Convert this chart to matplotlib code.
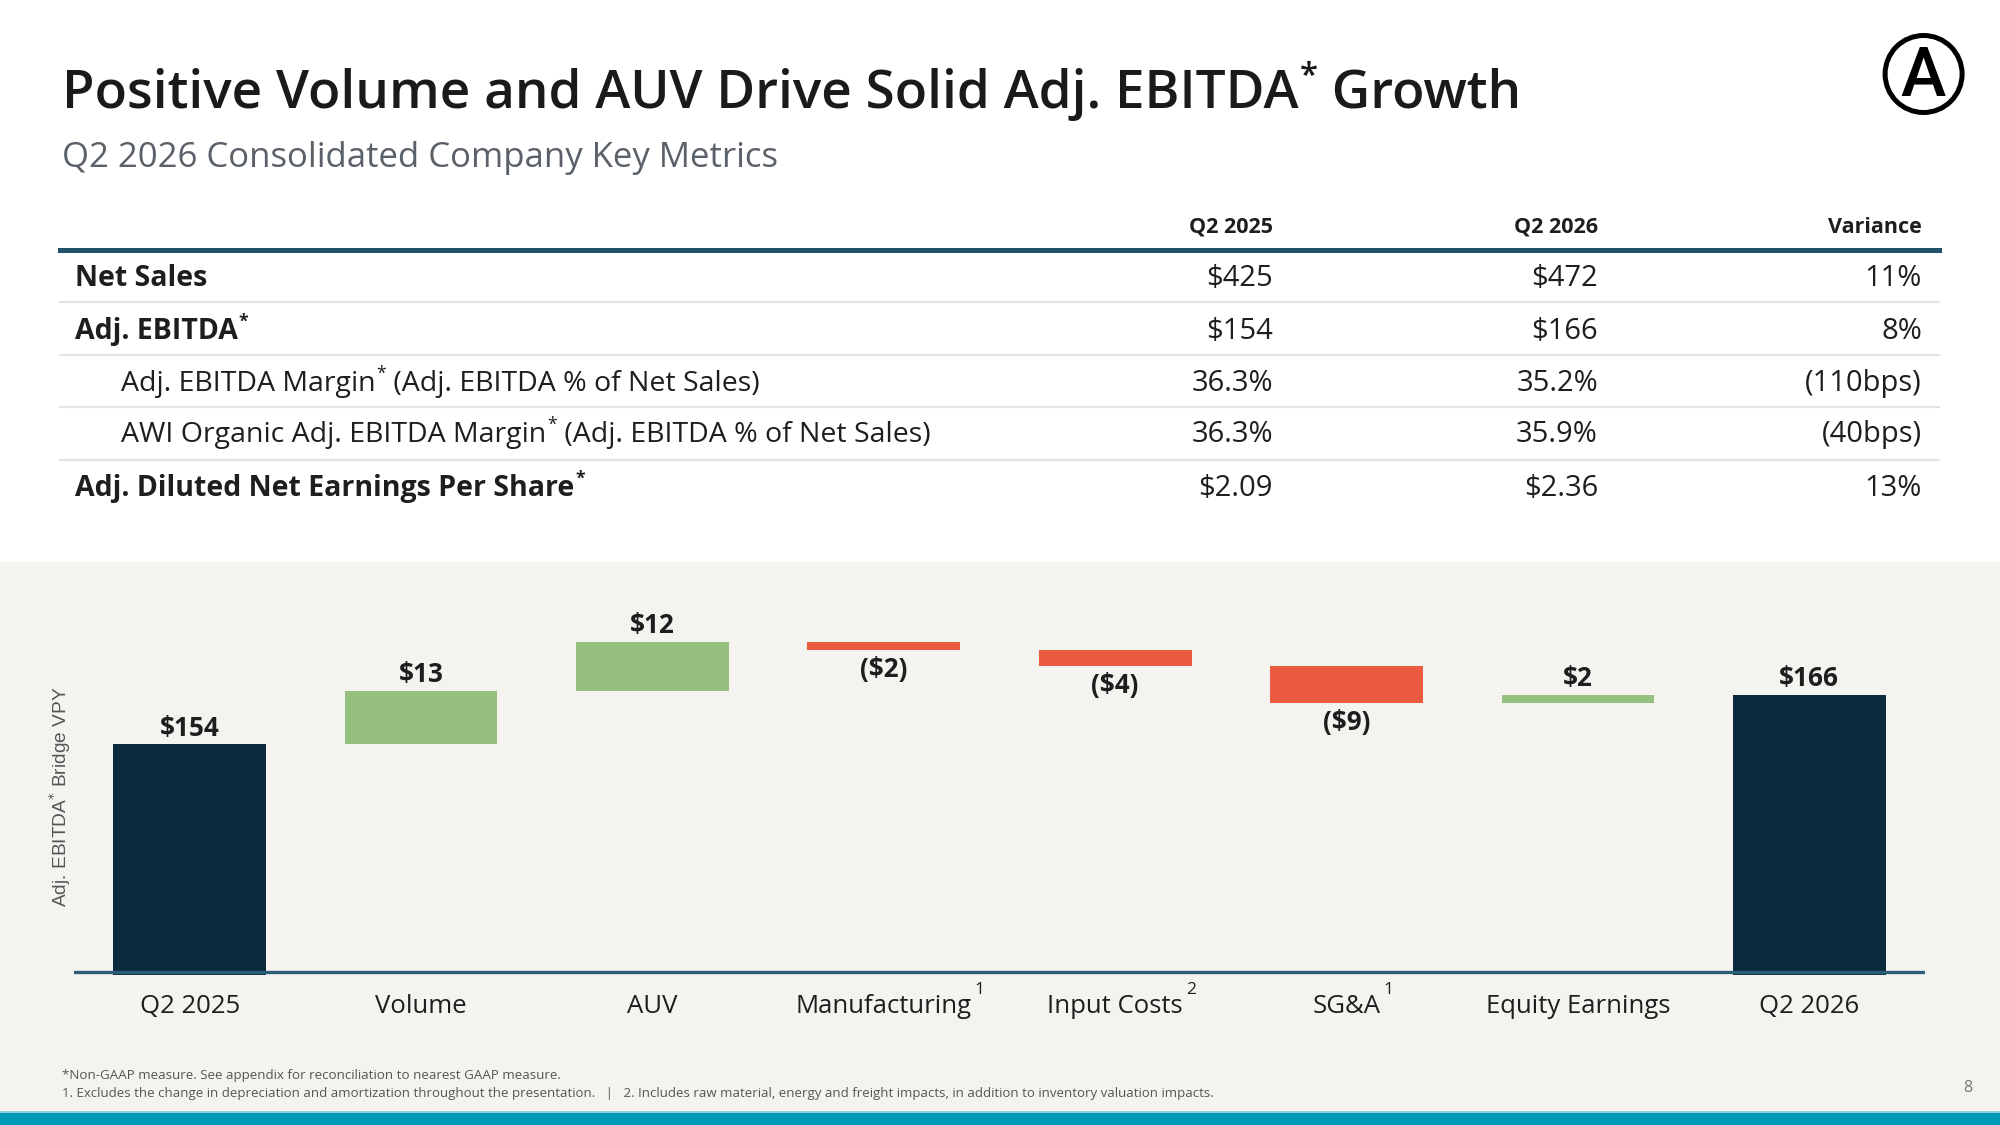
import matplotlib.pyplot as plt
from matplotlib.patches import Rectangle, Circle

W, H = 2000, 1125

# waterfall data
categories = ["Q2 2025", "Volume", "AUV", "Manufacturing", "Input Costs", "SG&A", "Equity Earnings", "Q2 2026"]
notes = ["", "", "", "1", "2", "1", "", ""]
changes = [154, 13, 12, -2, -4, -9, 2, 166]
is_total = [True, False, False, False, False, False, False, True]
bar_labels = ["$154", "$13", "$12", "($2)", "($4)", "($9)", "$2", "$166"]

# table data
col_headers = ["Q2 2025", "Q2 2026", "Variance"]
row_labels = ["Net Sales", "Adj. EBITDA", "Adj. EBITDA Margin",
              "AWI Organic Adj. EBITDA Margin", "Adj. Diluted Net Earnings Per Share"]
row_suffix = ["", "", " (Adj. EBITDA % of Net Sales)", " (Adj. EBITDA % of Net Sales)", ""]
row_star = [False, True, True, True, True]
row_bold = [True, True, False, False, True]
row_indent = [False, False, True, True, False]
q2_2025 = ["$425", "$154", "36.3%", "36.3%", "$2.09"]
q2_2026 = ["$472", "$166", "35.2%", "35.9%", "$2.36"]
variance = ["11%", "8%", "(110bps)", "(40bps)", "13%"]

FONT = "Open Sans"
INK = "#1e1e1e"
NAVY = "#0b2b3d"
GREEN = "#94bf7f"
RED = "#ea5b3f"
LINE = "#1f5269"

fig = plt.figure(figsize=(20, 11.25), dpi=100)
fig.patch.set_facecolor("white")
renderer = fig.canvas.get_renderer()


def fx(x):
    return x / W


def fy(y):
    return 1 - y / H


def run(x, base, pieces, size, color=INK, weight="normal", family=FONT):
    """Draw text pieces left to right; pieces are (text, is_superscript)."""
    px = size * 100 / 72
    for s, sup in pieces:
        if sup:
            t = fig.text(fx(x + 1), fy(base - px * 0.42), s, fontsize=size * 0.62,
                         color=color, weight=weight, family=family, va="baseline", ha="left")
        else:
            t = fig.text(fx(x), fy(base), s, fontsize=size, color=color,
                         weight=weight, family=family, va="baseline", ha="left")
        x = t.get_window_extent(renderer).x1
    return x


# backgrounds
fig.add_artist(Rectangle((0, fy(1113)), 1, (1113 - 562) / H, transform=fig.transFigure,
                         facecolor="#f4f3f0", edgecolor="none", zorder=0))
fig.add_artist(Rectangle((0, 0), 1, 12 / H, transform=fig.transFigure,
                         facecolor="#0099b8", edgecolor="none", zorder=0))
fig.add_artist(Rectangle((0, 12 / H), 1, 2 / H, transform=fig.transFigure,
                         facecolor="#8ccfde", edgecolor="none", zorder=0))

# title block
run(62, 108, [("Positive Volume and AUV Drive Solid Adj. EBITDA", False), ("*", True), (" Growth", False)],
    38.2, color="#1a1a1a", weight="semibold")
run(62, 167, [("Q2 2026 Consolidated Company Key Metrics", False)], 25, color="#5b6168")

# logo
fig.add_artist(Circle((19.236, (H - 74) / 100), 0.385, transform=fig.dpi_scale_trans,
                      facecolor="none", edgecolor="black", linewidth=3.6))
fig.text(fx(1923), fy(96), "A", fontsize=49, family="Roboto", weight="medium",
         ha="center", va="baseline", color="black")

# table
col_x = [1273, 1598, 1922]
for cx, h in zip(col_x, col_headers):
    fig.text(fx(cx), fy(233), h, fontsize=15.5, weight="bold", family=FONT,
             ha="right", va="baseline", color=INK)

fig.add_artist(plt.Line2D([fx(60), fx(1939)], [fy(250), fy(250)], color=LINE, lw=3.6))
for sy in [302, 355, 407, 460]:
    fig.add_artist(plt.Line2D([fx(60), fx(1939)], [fy(sy), fy(sy)], color="#e3e3e3", lw=1.5))

row_base = [286, 339, 391, 442, 496]
for i, lab in enumerate(row_labels):
    pieces = [(lab, False)]
    if row_star[i]:
        pieces.append(("*", True))
    if row_suffix[i]:
        pieces.append((row_suffix[i], False))
    run(121 if row_indent[i] else 75, row_base[i], pieces, 20.5,
        weight="bold" if row_bold[i] else "normal")
    for cx, col in zip(col_x, [q2_2025, q2_2026, variance]):
        fig.text(fx(cx), fy(row_base[i]), col[i], fontsize=21, family=FONT,
                 ha="right", va="baseline", color=INK)

# waterfall chart
ax = fig.add_axes([fx(74), fy(975), (1925 - 74) / W, (975 - 580) / H])
ax.patch.set_visible(False)

bottoms, heights, colors = [], [], []
level = 0
for v, tot in zip(changes, is_total):
    if tot:
        bottoms.append(0)
        heights.append(v)
        colors.append(NAVY)
        level = v
    else:
        bottoms.append(level if v > 0 else level + v)
        heights.append(abs(v))
        colors.append(GREEN if v > 0 else RED)
        level += v

xs = list(range(len(categories)))
ax.bar(xs, heights, bottom=bottoms, width=0.66, color=colors, zorder=2)
ax.set_xlim(-0.5, 7.5)
ax.set_ylim(97.8, 194.0)
ax.axhline(98.5, color="#2d5f78", lw=2.4, zorder=3)

for x, b, h, v, tot, lab in zip(xs, bottoms, heights, changes, is_total, bar_labels):
    if tot or v > 0:
        ax.annotate(lab, (x, b + h), xytext=(0, 11.5), textcoords="offset points",
                    ha="center", va="center", fontsize=18.8, weight="bold", family=FONT, color=INK)
    else:
        ax.annotate(lab, (x, b), xytext=(0, -14), textcoords="offset points",
                    ha="center", va="center", fontsize=18.8, weight="bold", family=FONT, color=INK)

ax.set_yticks([])
ax.set_xticks(xs, categories)
ax.tick_params(axis="x", length=0, pad=14, labelsize=18.5, labelcolor=INK)
for t in ax.get_xticklabels():
    t.set_family(FONT)
for s in ax.spines.values():
    s.set_visible(False)

fig.canvas.draw()
for t, n in zip(ax.get_xticklabels(), notes):
    if n:
        bb = t.get_window_extent(renderer)
        fig.text(bb.x1 / W + 3 / W, fy(990), n, fontsize=12.5, family=FONT,
                 ha="left", va="center", color=INK)

fig.text(fx(60), fy(797), "Adj. EBITDA$^{*}$ Bridge VPY", rotation=90, fontsize=13.8,
         family="Liberation Sans", color="#555555", ha="center", va="center")

# footnotes
fig.text(fx(62), fy(1075), "*Non-GAAP measure. See appendix for reconciliation to nearest GAAP measure.",
         fontsize=9.6, family=FONT, color="#555555", va="center")
fig.text(fx(62), fy(1093), "1. Excludes the change in depreciation and amortization throughout the presentation.   |   "
         "2. Includes raw material, energy and freight impacts, in addition to inventory valuation impacts.",
         fontsize=9.5, family=FONT, color="#555555", va="center")
fig.text(fx(1968), fy(1088), "8", fontsize=11.5, family=FONT, color="#777777", ha="center", va="center")

fig.savefig("out.png", dpi=100, facecolor=fig.get_facecolor())
